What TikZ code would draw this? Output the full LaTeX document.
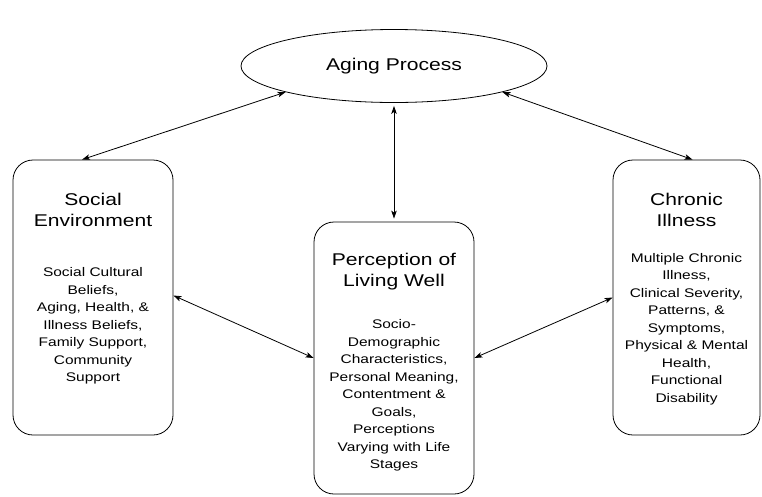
\documentclass[tikz,border=0pt]{standalone}
\usepackage{fontspec}
\setmainfont[FakeStretch=1.24]{Liberation Sans}
\usetikzlibrary{shapes.geometric, arrows.meta, positioning}

\begin{document}
\begin{tikzpicture}[x=1pt, y=-1pt, line width=0.8pt, >={Stealth[length=8pt, width=5.5pt, inset=2pt]},
    box/.style={draw, rectangle, rounded corners=20pt, minimum height=275pt},
    title/.style={align=center, font=\fontsize{17}{20.7}\selectfont},
    body/.style={align=center, font=\fontsize{12.5}{17.5}\selectfont}]
    \useasboundingbox (0,0) rectangle (762,496);

    % Aging Process (x=394, y=66)
    \node[draw, ellipse, minimum width=306pt, minimum height=73pt, title] (aging) at (394, 66) {Aging Process};

    % Social Environment (x=93, y=297.5)
    \node[box, minimum width=160pt] (social) at (93, 297.5) {};
    \node[title] (socialtitle) at (93, 210) {Social\\Environment};
    \node[body] (socialbody) at (93, 326) {Social Cultural\\Beliefs,\\Aging, Health, \&\\Illness Beliefs,\\Family Support,\\Community\\Support};

    % Perception of Living Well (x=394, y=358)
    \node[box, minimum width=160pt, minimum height=272pt] (living) at (394, 358) {};
    \node[title] (livingtitle) at (394, 271.5) {Perception of\\Living Well};
    \node[body] (livingbody) at (394, 395.5) {Socio-\\Demographic\\Characteristics,\\Personal Meaning,\\Contentment \&\\Goals,\\Perceptions\\Varying with Life\\Stages};

    % Chronic Illness (x=686.5, y=297.5)
    \node[box, minimum width=147pt] (chronic) at (686.5, 297.5) {};
    \node[title] (chronictitle) at (686.5, 210) {Chronic\\Illness};
    \node[body] (chronicbody) at (686.5, 329) {Multiple Chronic\\Illness,\\Clinical Severity,\\Patterns, \&\\Symptoms,\\Physical \& Mental\\Health,\\Functional\\Disability};

    % Arrows
    \draw[<->] (aging.south west) -- ([xshift=-11pt]social.north);
    \draw[<->] (aging.south east) -- ([xshift=6pt]chronic.north);
    \draw[<->, shorten <=3pt, shorten >=3pt] (aging.south) -- (living.north);
    \draw[<->] ([yshift=2pt]social.east) -- (living.west);
    \draw[<->] (living.east) -- (chronic.west);
\end{tikzpicture}
\end{document}
